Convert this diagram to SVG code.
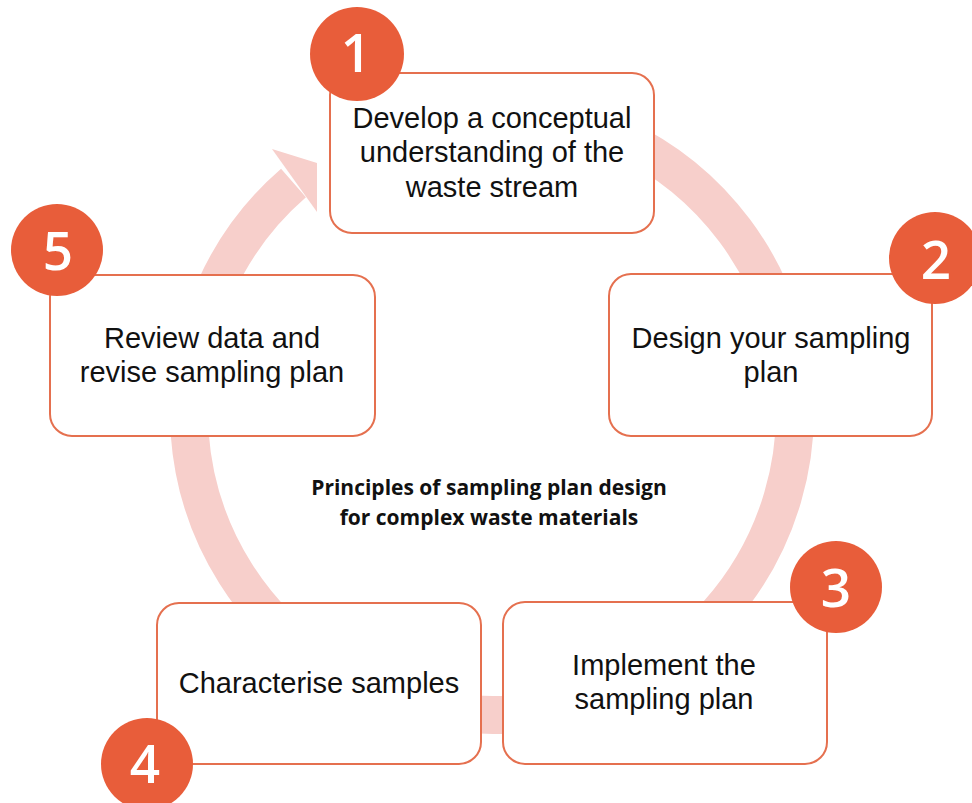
<svg xmlns="http://www.w3.org/2000/svg" width="972" height="803" viewBox="0 0 972 803">
  <style>
    .box { fill: #ffffff; stroke: #e5704f; stroke-width: 2; }
    .badge { fill: #e85d3a; }
    .num { font-family: "Open Sans", "Noto Sans", sans-serif; font-size: 53px; font-weight: 600; fill: #ffffff; text-anchor: middle; }
    .lbl { font-family: "Liberation Sans", Arial, sans-serif; font-size: 29px; fill: #111111; text-anchor: middle; }
    .title { font-family: "Open Sans", "Noto Sans", sans-serif; font-size: 21px; font-weight: 700; fill: #111111; text-anchor: middle; }
    .ring { fill: none; stroke: #f7cfcb; stroke-width: 38; }
  </style>

  <rect width="972" height="803" fill="#ffffff"/>

  <!-- circular cycle arrow behind the steps -->
  <g id="connectors">
    <path class="ring" d="M 492 109 A 303 303 0 1 1 293.5 183"/>
    <polygon points="272,149 317,163 317,212" fill="#f7cfcb"/>
  </g>

  <g id="step1">
    <rect class="box" x="330" y="73" width="324" height="160" rx="22"/>
    <text class="lbl" x="492" y="128">Develop a conceptual</text>
    <text class="lbl" x="492" y="162">understanding of the</text>
    <text class="lbl" x="492" y="197">waste stream</text>
    <circle class="badge" cx="357" cy="54" r="47"/>
    <text class="num" x="356" y="72">1</text>
  </g>

  <g id="step2">
    <rect class="box" x="609" y="274" width="323" height="162" rx="22"/>
    <text class="lbl" x="771" y="348">Design your sampling</text>
    <text class="lbl" x="771" y="382">plan</text>
    <circle class="badge" cx="935" cy="258" r="46"/>
    <text class="num" x="936" y="279">2</text>
  </g>

  <g id="step3">
    <rect class="box" x="503" y="602" width="324" height="162" rx="22"/>
    <text class="lbl" x="664" y="675">Implement the</text>
    <text class="lbl" x="664" y="709">sampling plan</text>
    <circle class="badge" cx="836" cy="587" r="46"/>
    <text class="num" x="836" y="607">3</text>
  </g>

  <g id="step4">
    <rect class="box" x="157" y="603" width="324" height="161" rx="22"/>
    <text class="lbl" x="319" y="693">Characterise samples</text>
    <circle class="badge" cx="147" cy="764" r="46"/>
    <text class="num" x="145" y="783">4</text>
  </g>

  <g id="step5">
    <rect class="box" x="50" y="275" width="325" height="161" rx="22"/>
    <text class="lbl" x="212" y="348">Review data and</text>
    <text class="lbl" x="212" y="382">revise sampling plan</text>
    <circle class="badge" cx="57" cy="250" r="46"/>
    <text class="num" x="58" y="270">5</text>
  </g>

  <g id="centre-title">
    <text class="title" x="489" y="495">Principles of sampling plan design</text>
    <text class="title" x="489" y="525">for complex waste materials</text>
  </g>
</svg>
